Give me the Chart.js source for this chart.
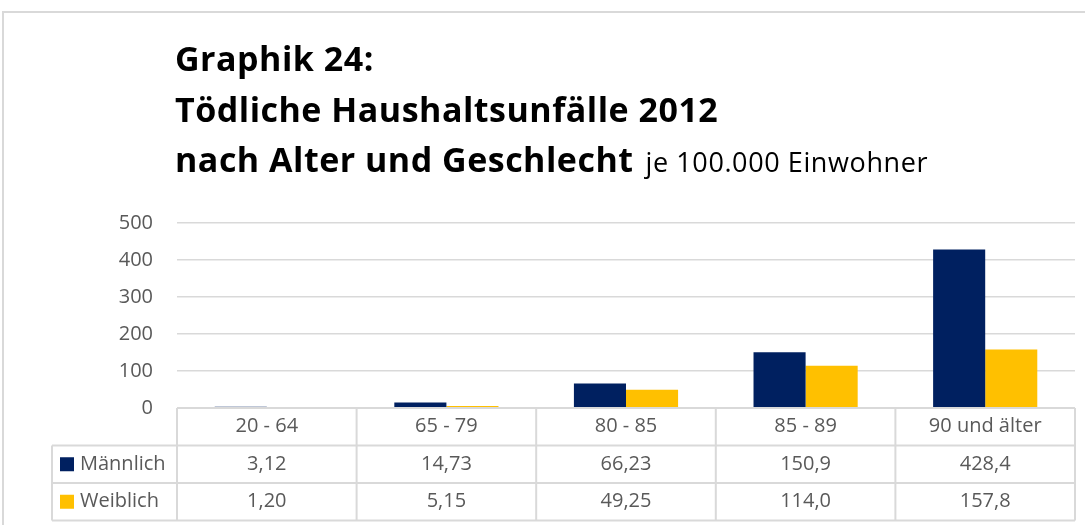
<!DOCTYPE html>
<html>
<head>
<meta charset="utf-8">
<script src="https://cdn.jsdelivr.net/npm/chart.js@4/dist/chart.umd.min.js"></script>
<style>
  body { margin: 0; background: #fff; }
  #wrap { position: relative; width: 1085px; height: 525px; }
</style>
</head>
<body>
<div id="wrap"><canvas id="graph" width="1085" height="525"></canvas></div>
<script>
const ageGroups = ["20 - 64", "65 - 79", "80 - 85", "85 - 89", "90 und älter"];
const maleVal = [3.12, 14.73, 66.23, 150.9, 428.4];
const femaleVal = [1.20, 5.15, 49.25, 114.0, 157.8];
const maleText = ["3,12", "14,73", "66,23", "150,9", "428,4"];
const femaleText = ["1,20", "5,15", "49,25", "114,0", "157,8"];
const yTicks = [0, 100, 200, 300, 400, 500];

const navy = '#002060';
const gold = '#FFC000';
const lineCol = '#d9d9d9';
const textCol = '#595959';
const font = '"Open Sans", sans-serif';

/* Titel + Datentabelle */
const tablePlugin = {
    id: 'tablePlugin',
    afterDraw(chart) {
        const ctx = chart.ctx;
        const area = chart.chartArea;
        const n = ageGroups.length;
        const w = (area.right - area.left) / n;
        const rowH = 37.5;
        const legLeft = 52;
        const y0 = area.bottom;
        ctx.save();

        // Rahmen
        ctx.strokeStyle = lineCol;
        ctx.lineWidth = 2;
        ctx.beginPath();
        ctx.moveTo(3, 525); ctx.lineTo(3, 12); ctx.lineTo(1085, 12);
        ctx.stroke();

        // Titel
        ctx.fillStyle = '#000';
        ctx.textBaseline = 'alphabetic';
        ctx.textAlign = 'left';
        ctx.font = 'bold 34px ' + font;
        ctx.letterSpacing = '0.5px';
        ctx.fillText('Graphik 24:', 175, 71);
        ctx.fillText('Tödliche Haushaltsunfälle 2012', 175, 122);
        const t3 = 'nach Alter und Geschlecht';
        ctx.fillText(t3, 175, 172);
        const tw = ctx.measureText(t3).width;
        ctx.font = '27px ' + font;
        ctx.letterSpacing = '0.6px';
        ctx.fillText('je 100.000 Einwohner', 175 + tw + 12, 172);
        ctx.letterSpacing = '0px';

        // Tabellenlinien
        ctx.strokeStyle = lineCol;
        ctx.lineWidth = 2;
        ctx.beginPath();
        ctx.moveTo(area.left, y0); ctx.lineTo(area.right, y0);
        for (let r = 1; r <= 3; r++) {
            ctx.moveTo(legLeft, y0 + r * rowH);
            ctx.lineTo(area.right, y0 + r * rowH);
        }
        ctx.moveTo(legLeft, y0 + rowH); ctx.lineTo(legLeft, y0 + 3 * rowH);
        for (let i = 0; i <= n; i++) {
            ctx.moveTo(area.left + i * w, y0);
            ctx.lineTo(area.left + i * w, y0 + 3 * rowH);
        }
        ctx.stroke();

        // Tabellentext
        ctx.fillStyle = textCol;
        ctx.font = '20px ' + font;
        ctx.textBaseline = 'middle';
        ctx.textAlign = 'center';
        for (let i = 0; i < n; i++) {
            const cx = area.left + (i + 0.5) * w;
            ctx.fillText(ageGroups[i], cx, y0 + rowH * 0.5);
            ctx.fillText(maleText[i], cx, y0 + rowH * 1.5);
            ctx.fillText(femaleText[i], cx, y0 + rowH * 2.5);
        }
        const series = [['Männlich', navy], ['Weiblich', gold]];
        ctx.textAlign = 'left';
        series.forEach((s, k) => {
            const cy = y0 + rowH * (1.5 + k);
            ctx.fillStyle = s[1];
            ctx.fillRect(60, cy - 7, 14, 14);
            ctx.fillStyle = textCol;
            ctx.fillText(s[0], 80, cy);
        });
        ctx.restore();
    }
};

const ctx = document.getElementById('graph').getContext('2d');
const myChart = new Chart(ctx, {
    type: 'bar',
    data: {
        labels: ageGroups,
        datasets: [{
            label: 'Männlich',
            data: maleVal,
            backgroundColor: navy,
        }, {
            label: 'Weiblich',
            data: femaleVal,
            backgroundColor: gold,
        }]
    },
    options: {
        responsive: false,
        animation: false,
        layout: {
            padding: { left: 0, top: 223, right: 10, bottom: 117 }
        },
        datasets: {
            bar: { categoryPercentage: 0.58, barPercentage: 1 }
        },
        scales: {
            x: {
                display: false
            },
            y: {
                min: 0,
                max: 500,
                afterBuildTicks: (scale) => { scale.ticks = yTicks.map(v => ({ value: v })); },
                afterFit: (scale) => { scale.width = 177; },
                border: { display: false },
                grid: {
                    color: lineCol,
                    lineWidth: 1.5,
                    drawTicks: false
                },
                ticks: {
                    padding: 24,
                    color: textCol,
                    font: { family: font, size: 20 }
                }
            }
        },
        plugins: {
            legend: { display: false },
            tooltip: { enabled: false }
        }
    },
    plugins: [tablePlugin]
});
</script>
</body>
</html>
